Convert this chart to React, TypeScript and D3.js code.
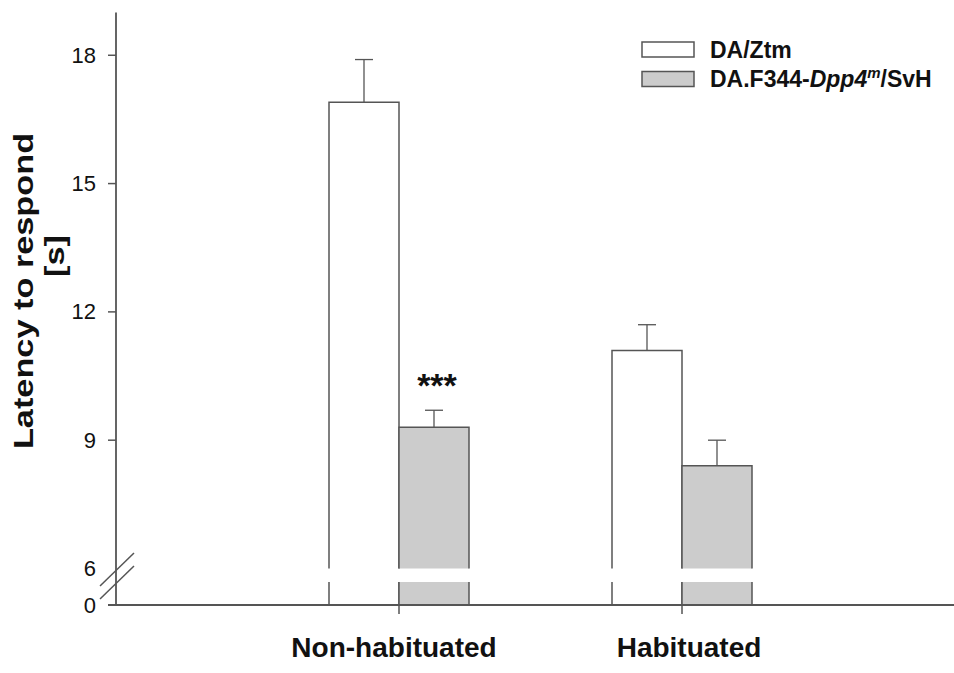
import { useMemo } from 'react';
import * as d3 from 'd3';

// data
const groups = ['Non-habituated', 'Habituated'];
const strains = ['DA/Ztm', 'DA.F344-Dpp4m/SvH'];
const means = [
  [16.9, 9.3], // Non-habituated
  [11.1, 8.4], // Habituated
];
const sems = [
  [1.0, 0.4],
  [0.6, 0.6],
];
const upperTicks = [6, 9, 12, 15, 18];
const lowerTicks = [0];

const WIDTH = 954;
const HEIGHT = 673;
const AXIS_X = 116;
const AXIS_Y = 605;
const FONT = '"Liberation Sans", Arial, sans-serif';
const LINE = '#555';
const FILLS = ['#ffffff', '#cccccc'];

export default function App() {
  // broken y axis: a short stub for 0 and the real range above 6
  const yUpper = useMemo(
    () => d3.scaleLinear().domain([6, 19]).range([568.5, 12.5]),
    []
  );
  const yLower = useMemo(
    () => d3.scaleLinear().domain([0, 6]).range([AXIS_Y, 582]),
    []
  );

  const xScale = useMemo(
    () => d3.scalePoint().domain(groups).range([AXIS_X, 965]).padding(1),
    []
  );
  const xInner = useMemo(
    () => d3.scaleBand().domain(strains).range([-70, 70]),
    []
  );

  const bars = groups.map((g, gi) =>
    strains.map((s, si) => {
      const x = (xScale(g) ?? 0) + (xInner(s) ?? 0);
      const w = xInner.bandwidth();
      const v = means[gi][si];
      const top = yUpper(v);
      const errTop = yUpper(v + sems[gi][si]);
      const cx = x + w / 2;
      const bot = yUpper(6);
      const lowTop = yLower(6);
      return (
        <g key={`${gi}-${si}`}>
          <line x1={cx} x2={cx} y1={top} y2={errTop} stroke={LINE} strokeWidth={1.3} />
          <line x1={cx - 9} x2={cx + 9} y1={errTop} y2={errTop} stroke={LINE} strokeWidth={1.3} />
          <rect x={x} y={top} width={w} height={bot - top} fill={FILLS[si]} stroke="none" />
          <path
            d={`M${x},${bot}V${top}H${x + w}V${bot}`}
            fill="none"
            stroke={LINE}
            strokeWidth={1.5}
          />
          <rect x={x} y={lowTop} width={w} height={AXIS_Y - lowTop} fill={FILLS[si]} stroke="none" />
          <path
            d={`M${x},${AXIS_Y}V${lowTop}M${x + w},${lowTop}V${AXIS_Y}`}
            fill="none"
            stroke={LINE}
            strokeWidth={1.5}
          />
        </g>
      );
    })
  );

  const tickStyle = { fontFamily: FONT, fontSize: 22, fill: '#111' };
  const titleStyle = { fontFamily: FONT, fontWeight: 'bold', fontSize: 27, fill: '#111' };

  return (
    <svg width={WIDTH} height={HEIGHT} style={{ position: 'absolute', left: 0, top: 0 }}>
      <rect width={WIDTH} height={HEIGHT} fill="#fff" />
      {bars}

      {/* axes */}
      <line x1={AXIS_X} x2={AXIS_X} y1={yUpper(19)} y2={AXIS_Y} stroke={LINE} strokeWidth={1.8} />
      <line x1={AXIS_X - 8} x2={WIDTH} y1={AXIS_Y} y2={AXIS_Y} stroke={LINE} strokeWidth={1.8} />
      {upperTicks.map(t => (
        <g key={t}>
          {t !== 6 && (
            <line x1={AXIS_X - 8} x2={AXIS_X} y1={yUpper(t)} y2={yUpper(t)} stroke={LINE} strokeWidth={1.5} />
          )}
          <text x={96} y={yUpper(t)} textAnchor="end" dominantBaseline="central" {...tickStyle}>
            {t}
          </text>
        </g>
      ))}
      {lowerTicks.map(t => (
        <text key={t} x={96} y={yLower(t)} textAnchor="end" dominantBaseline="central" {...tickStyle}>
          {t}
        </text>
      ))}
      {/* axis break marks */}
      <line x1={100} y1={586} x2={134} y2={553} stroke={LINE} strokeWidth={1.5} />
      <line x1={100} y1={599} x2={134} y2={566} stroke={LINE} strokeWidth={1.5} />

      {groups.map(g => (
        <g key={g}>
          <line x1={xScale(g)} x2={xScale(g)} y1={AXIS_Y} y2={AXIS_Y + 9} stroke={LINE} strokeWidth={1.5} />
          <text
            x={(xScale(g) ?? 0) + (g === 'Habituated' ? 7 : -5)}
            y={657}
            textAnchor="middle"
            {...titleStyle}
            fontSize={28}
          >
            {g}
          </text>
        </g>
      ))}

      {/* y axis title, stretched along its length like the original */}
      <g transform="translate(33,291) rotate(-90) scale(1.27,1)">
        <text textAnchor="middle" {...titleStyle}>
          Latency to respond
        </text>
      </g>
      <g transform="translate(64,256) rotate(-90) scale(1.27,1)">
        <text textAnchor="middle" {...titleStyle}>
          [s]
        </text>
      </g>

      {/* significance */}
      <text
        x={(xScale(groups[0]) ?? 0) + (xInner(strains[1]) ?? 0) + xInner.bandwidth() / 2 + 3}
        y={397}
        textAnchor="middle"
        {...titleStyle}
        fontSize={34}
      >
        ***
      </text>

      {/* legend */}
      {strains.map((s, i) => (
        <g key={s} transform={`translate(642,${42 + i * 29.5})`}>
          <rect width={52} height={15} fill={FILLS[i]} stroke={LINE} strokeWidth={1.5} />
          <text x={68} y={15.5} {...titleStyle} fontSize={23}>
            {i === 0 ? (
              s
            ) : (
              <>
                DA.F344-<tspan fontStyle="italic">Dpp4</tspan>
                <tspan fontStyle="italic" fontSize={15} dy={-9}>m</tspan>
                <tspan dy={9}>/SvH</tspan>
              </>
            )}
          </text>
        </g>
      ))}
    </svg>
  );
}
